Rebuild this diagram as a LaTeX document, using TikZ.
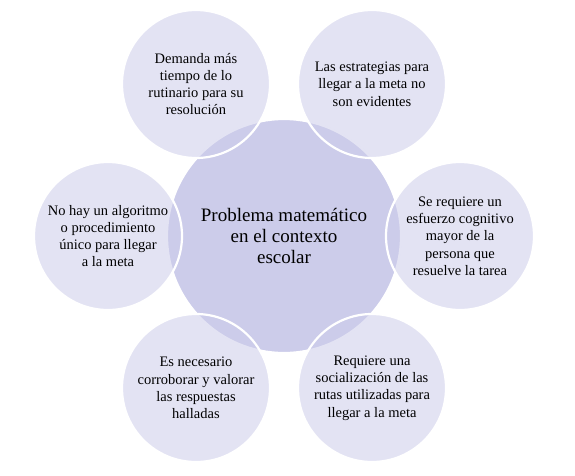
\documentclass[tikz,border=0pt]{standalone}
\usepackage{fontspec}
\setmainfont{Liberation Serif}
\definecolor{cc}{RGB}{204,204,234}
\begin{document}
\begin{tikzpicture}[x=1pt,y=-1pt,
  hub/.style={circle,fill=cc,draw=white,line width=2.2pt,minimum size=234pt,inner sep=0pt,
    align=center,font=\fontsize{19}{21}\selectfont},
  sat/.style={circle,fill=cc,fill opacity=0.55,draw=white,draw opacity=1,text opacity=1,
    line width=2.2pt,minimum size=148pt,inner sep=0pt,align=center,
    font=\fontsize{14.5}{17.3}\selectfont}]
\useasboundingbox (0,0) rectangle (575,476);
\node[hub] (c) at (284,236) {Problema matemático\\en el contexto\\escolar};
\node[sat] (tl) at (196,84) {Demanda más\\tiempo de lo\\rutinario para su\\resolución};
\node[sat] (tr) at (372,84) {Las estrategias para\\llegar a la meta no\\son evidentes};
\node[sat] (l) at (108,236) {No hay un algoritmo\\o procedimiento\\único para llegar\\a la meta};
\node[sat] (r) at (460,236) {Se requiere un\\esfuerzo cognitivo\\mayor de la\\persona que\\resuelve la tarea};
\node[sat] (bl) at (196,388) {Es necesario\\corroborar y valorar\\las respuestas\\halladas};
\node[sat] (br) at (372,388) {Requiere una\\socialización de las\\rutas utilizadas para\\llegar a la meta};
\end{tikzpicture}
\end{document}
